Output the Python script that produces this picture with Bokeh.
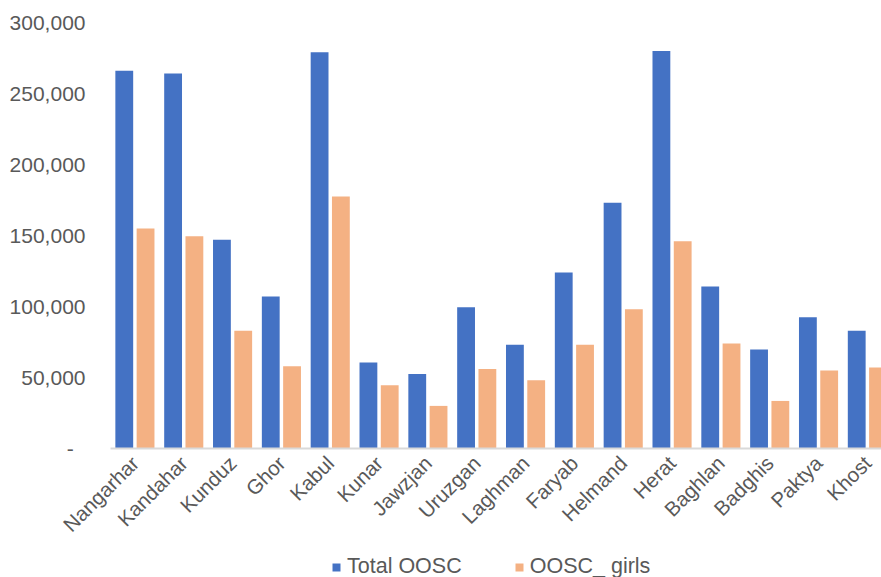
import math
from bokeh.plotting import figure
from bokeh.models import (ColumnDataSource, Range1d, FixedTicker, NumeralTickFormatter,
                          Legend, LegendItem)
from bokeh.transform import dodge
from bokeh.embed import file_html
from bokeh.resources import INLINE

provinces = ["Nangarhar", "Kandahar", "Kunduz", "Ghor", "Kabul", "Kunar", "Jawzjan",
             "Uruzgan", "Laghman", "Faryab", "Helmand", "Herat", "Baghlan", "Badghis",
             "Paktya", "Khost"]
total_oosc = [266000, 264000, 147000, 107000, 279000, 60500, 52500, 99500, 73000,
              124000, 173000, 280000, 114000, 69700, 92500, 83000]
oosc_girls = [155000, 149500, 83000, 58000, 177500, 44500, 30000, 56000, 48000,
              73000, 98000, 146000, 74000, 33500, 55000, 57000]
y_ticks = [0, 50000, 100000, 150000, 200000, 250000, 300000]

BLUE = "#4472C4"
ORANGE = "#F4B183"
GREY_TEXT = "#595959"
FONT = "Liberation Sans"

W, H = 881, 577
# value axis: 300,000 spans 426 px, zero sits 448 px from the top
Y_MAX = 300000 * (1 + 22 / 426)
Y_MIN = -300000 * 129 / 426
# category axis: one category per 48.83 px, first category starts 110 px from the left
X_UNIT = 1 / 48.83
X_MIN = -0.5 - 110 * X_UNIT
X_MAX = X_MIN + W * X_UNIT

src = ColumnDataSource(dict(x=list(range(len(provinces))), total=total_oosc, girls=oosc_girls))

p = figure(width=W, height=H, output_backend="svg", toolbar_location=None,
           x_range=Range1d(X_MIN, X_MAX), y_range=Range1d(Y_MIN, Y_MAX),
           min_border_left=0, min_border_right=0, min_border_top=0, min_border_bottom=0)
p.outline_line_color = None
p.background_fill_color = "white"
p.border_fill_color = "white"
p.xgrid.visible = False
p.ygrid.visible = False

bw = 0.365
r1 = p.vbar(x=dodge("x", -0.218), top="total", width=bw, source=src,
            fill_color=BLUE, line_color=None)
r2 = p.vbar(x=dodge("x", 0.218), top="girls", width=bw, source=src,
            fill_color=ORANGE, line_color=None)

# x axis, drawn at zero
p.xaxis.fixed_location = 0
p.xaxis.bounds = (-0.5, X_MAX)
p.xaxis.ticker = FixedTicker(ticks=list(range(len(provinces))))
p.xaxis.major_label_overrides = {i: name for i, name in enumerate(provinces)}
p.xaxis.major_label_orientation = math.pi / 4
p.xaxis.axis_line_color = "#D9D9D9"
p.xaxis.axis_line_width = 2
p.xaxis.major_tick_line_color = None
p.xaxis.minor_tick_line_color = None
p.xaxis.major_label_text_font = FONT
p.xaxis.major_label_text_font_size = "20.5px"
p.xaxis.major_label_text_color = GREY_TEXT
p.xaxis.major_label_standoff = 5

# y axis, drawn at the left edge of the first category
p.yaxis.fixed_location = -0.5
p.yaxis.ticker = FixedTicker(ticks=y_ticks)
p.yaxis.formatter = NumeralTickFormatter(format="0,0")
p.yaxis.major_label_overrides = {0: "-\u00a0\u00a0"}
p.yaxis.axis_line_color = None
p.yaxis.major_tick_line_color = None
p.yaxis.minor_tick_line_color = None
p.yaxis.major_label_text_font = FONT
p.yaxis.major_label_text_font_size = "21px"
p.yaxis.major_label_text_color = GREY_TEXT
p.yaxis.major_label_standoff = 19

legend = Legend(items=[LegendItem(label="Total OOSC", renderers=[r1]),
                       LegendItem(label="OOSC_ girls", renderers=[r2])],
                orientation="horizontal", location=(331, -2),
                glyph_width=10, glyph_height=10, label_standoff=6, spacing=52,
                label_text_font=FONT, label_text_font_size="21.5px",
                label_text_color=GREY_TEXT, border_line_color=None,
                background_fill_alpha=0, padding=0, margin=0)
p.add_layout(legend, "center")

open("out.html", "w").write(file_html(p, INLINE))
